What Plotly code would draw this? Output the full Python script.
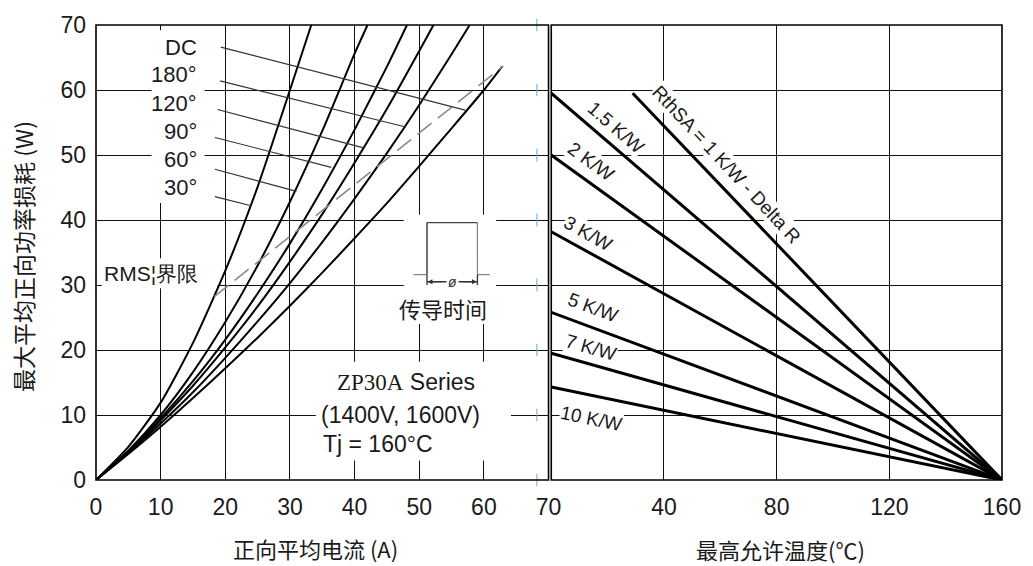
import plotly.graph_objects as go

# ---------------- data ----------------
# left panel: average forward current (A) -> max. average forward power loss (W)
cur_30 = [0, 5, 10, 15, 20, 25, 30, 33.3]
pw_30 = [0, 5.1, 11.9, 21.1, 32.2, 45.1, 60.0, 70.0]
cur_60 = [0, 5, 10, 15, 20, 25, 30, 35, 40, 42.0]
pw_60 = [0, 4.5, 10.0, 16.6, 24.3, 33.0, 42.8, 53.7, 65.6, 70.0]
cur_90 = [0, 5, 10, 15, 20, 25, 30, 35, 40, 45, 48.1]
pw_90 = [0, 4.4, 9.5, 15.2, 21.6, 28.7, 36.4, 44.8, 53.9, 63.6, 70.0]
cur_120 = [0, 5, 10, 15, 20, 25, 30, 35, 40, 45, 50, 52.2]
pw_120 = [0, 4.3, 9.2, 14.5, 20.4, 26.7, 33.6, 40.9, 48.8, 57.1, 66.0, 70.0]
cur_180 = [0, 5, 10, 15, 20, 25, 30, 35, 40, 45, 50, 55, 57.8]
pw_180 = [0, 4.2, 8.7, 13.5, 18.8, 24.4, 30.3, 36.6, 43.3, 50.3, 57.7, 65.5, 70.0]
cur_dc = [0, 5, 10, 15, 20, 25, 30, 35, 40, 45, 50, 55, 60, 62.8]
pw_dc = [0, 4.0, 8.2, 12.6, 17.2, 21.9, 26.8, 31.9, 37.2, 42.6, 48.3, 54.1, 60.0, 63.6]

curve_labels = ["DC", "180°", "120°", "90°", "60°", "30°"]
label_pw = [66.5, 62.4, 58.0, 53.6, 49.3, 45.0]
leader_from_cur = [19.3, 19.2, 18.8, 18.4, 18.4, 18.4]
leader_from_pw = [66.6, 61.4, 57.0, 52.7, 47.8, 43.6]
leader_to_cur = [57.1, 47.9, 41.4, 36.4, 31.0, 24.0]
leader_to_pw = [56.9, 54.3, 51.1, 48.1, 44.4, 42.2]

rms_cur = [18.3, 63.0]
rms_pw = [28.2, 63.7]

# right panel: max allowable temperature (°C) -> power loss (W)
rth_labels = ["RthSA = 1 K/W - Delta R", "1.5 K/W", "2 K/W", "3 K/W", "5 K/W", "7 K/W", "10 K/W"]
rth_start_t = [28.9, 0, 0, 0, 0, 0, 0]
rth_start_p = [59.5, 59.5, 50.0, 38.2, 25.8, 19.5, 14.3]
rth_end_t = 160
rth_end_p = 0
rth_lab_t = [62.3, 22.9, 14.1, 13.1, 14.8, 14.1, 14.1]
rth_lab_p = [48.6, 54.2, 49.0, 37.9, 26.5, 20.4, 9.4]
rth_lab_angle = [47, 41, 36, 29, 20.5, 16, 11.7]

x_ticks_left = [0, 10, 20, 30, 40, 50, 60, 70]
x_ticks_right = [40, 80, 120, 160]
y_ticks = [0, 10, 20, 30, 40, 50, 60, 70]
blue_tick_pw = [0, 10, 20, 30, 40, 50, 60, 70]

# ---------------- figure ----------------
SANS = "Liberation Sans, Arial, sans-serif"
CJK = "Noto Sans CJK SC, sans-serif"
fig = go.Figure()

for xs, ys in [(cur_30, pw_30), (cur_60, pw_60), (cur_90, pw_90),
               (cur_120, pw_120), (cur_180, pw_180), (cur_dc, pw_dc)]:
    fig.add_trace(go.Scatter(x=xs, y=ys, mode="lines", xaxis="x", yaxis="y",
                             line=dict(color="black", width=2, shape="spline", smoothing=0.6),
                             hoverinfo="skip", showlegend=False))

fig.add_trace(go.Scatter(x=rms_cur, y=rms_pw, mode="lines", xaxis="x", yaxis="y",
                         line=dict(color="#8a8a8a", width=1.6, dash="18px,8px"),
                         showlegend=False, hoverinfo="skip"))

# leader lines
for i in range(len(curve_labels)):
    fig.add_trace(go.Scatter(x=[leader_from_cur[i], leader_to_cur[i]],
                             y=[leader_from_pw[i], leader_to_pw[i]], mode="lines",
                             xaxis="x", yaxis="y", line=dict(color="#333", width=1.1),
                             showlegend=False, hoverinfo="skip"))

# small blue ticks
fig.add_trace(go.Scatter(x=[68.2] * len(blue_tick_pw), y=blue_tick_pw, mode="markers",
                         xaxis="x", yaxis="y",
                         marker=dict(symbol="line-ns-open", size=9, color="#6aa8dc",
                                     line=dict(color="#6aa8dc", width=1)),
                         showlegend=False, hoverinfo="skip", cliponaxis=False))

for i in range(len(rth_labels)):
    fig.add_trace(go.Scatter(x=[rth_start_t[i], rth_end_t], y=[rth_start_p[i], rth_end_p],
                             mode="lines", xaxis="x2", yaxis="y",
                             line=dict(color="black", width=3),
                             showlegend=False, hoverinfo="skip"))

annotations = []
for lab, yv in zip(curve_labels, label_pw):
    annotations.append(dict(x=15.9, y=yv, xref="x", yref="y", text=lab, showarrow=False,
                            xanchor="right", yanchor="middle",
                            font=dict(family=SANS, size=22, color="#1a1a1a")))

annotations.append(dict(x=1.0, y=31.8, xref="x", yref="y", text="RMS¦界限", showarrow=False,
                        xanchor="left", yanchor="middle",
                        font=dict(family=SANS, size=21, color="#1a1a1a")))

annotations.append(dict(x=53.75, y=26.4, xref="x", yref="y", text="传导时间", showarrow=False,
                        xanchor="center", yanchor="middle",
                        font=dict(family=CJK, size=22, color="#1a1a1a")))
annotations.append(dict(x=55.1, y=30.5, xref="x", yref="y", text="<i>ø</i>", showarrow=False,
                        xanchor="center", yanchor="middle", bgcolor="white",
                        font=dict(family=SANS, size=14, color="#333")))
for tip, tail in [(51.3, 53.6), (58.9, 56.6)]:
    annotations.append(dict(x=tip, y=30.5, ax=tail, ay=30.5, xref="x", yref="y",
                            axref="x", ayref="y", text="", showarrow=True,
                            arrowhead=2, arrowsize=0.8, arrowwidth=1.2, arrowcolor="#333"))

annotations.append(dict(x=47.95, y=15.1, xref="x", yref="y",
                        text='<span style="font-family:Liberation Serif, Times New Roman, serif">ZP30A</span> Series',
                        showarrow=False, xanchor="center", yanchor="middle",
                        font=dict(family=SANS, size=23, color="#1a1a1a")))
annotations.append(dict(x=47.05, y=10.0, xref="x", yref="y", text="(1400V, 1600V)",
                        showarrow=False, xanchor="center", yanchor="middle",
                        font=dict(family=SANS, size=23, color="#1a1a1a")))
annotations.append(dict(x=34.8, y=5.5, xref="x", yref="y", text="Tj = 160°C",
                        showarrow=False, xanchor="left", yanchor="middle",
                        font=dict(family=SANS, size=23, color="#1a1a1a")))

for lab, tx, py, ang in zip(rth_labels, rth_lab_t, rth_lab_p, rth_lab_angle):
    annotations.append(dict(x=tx, y=py, xref="x2", yref="y", text=lab, showarrow=False,
                            textangle=ang, xanchor="center", yanchor="middle",
                            bgcolor="white", borderpad=0,
                            font=dict(family=SANS, size=19, color="#1a1a1a")))

# axis titles
annotations.append(dict(x=0.2418, y=-0.15, xref="paper", yref="paper", text="正向平均电流 (A)",
                        showarrow=False, xanchor="center", yanchor="middle",
                        font=dict(family=CJK, size=22, color="#1a1a1a")))
annotations.append(dict(x=0.756, y=-0.152, xref="paper", yref="paper", text="最高允许温度(℃)",
                        showarrow=False, xanchor="center", yanchor="middle",
                        font=dict(family=CJK, size=22, color="#1a1a1a")))
annotations.append(dict(x=-0.0813, y=0.491, xref="paper", yref="paper",
                        text="最大平均正向功率损耗 (W)", textangle=-90,
                        showarrow=False, xanchor="center", yanchor="middle",
                        font=dict(family=CJK, size=23, color="#1a1a1a")))

shapes = []
# white masks that interrupt the grid behind text blocks
for x0, x1, y0, y1 in [(8.6, 16.8, 42.6, 69.2), (0.9, 18.8, 29.5, 34.1),
                       (47.6, 61.9, 24.0, 40.8), (34.0, 64.2, 3.0, 18.2)]:
    shapes.append(dict(type="rect", xref="x", yref="y", x0=x0, x1=x1, y0=y0, y1=y1,
                       fillcolor="white", line=dict(width=0), layer="between"))
# conduction-time pulse sketch
pulse = [((51.2, 31.6), (51.2, 39.6), "#222"), ((51.2, 39.6), (59.0, 39.6), "#444"),
         ((59.0, 39.6), (59.0, 31.6), "#888"), ((49.1, 31.6), (51.2, 31.6), "#888"),
         ((59.0, 31.6), (60.9, 31.6), "#888"), ((51.2, 31.6), (51.2, 30.0), "#333"),
         ((59.0, 31.6), (59.0, 30.0), "#333"), ((51.2, 30.5), (59.0, 30.5), "#333")]
for (xa, ya), (xb, yb), c in pulse:
    shapes.append(dict(type="line", xref="x", yref="y", x0=xa, y0=ya, x1=xb, y1=yb,
                       line=dict(color=c, width=1.3), layer="above"))
# panel borders
for xr in ["x domain", "x2 domain"]:
    shapes.append(dict(type="rect", xref=xr, yref="y domain", x0=0, x1=1, y0=0, y1=1,
                       line=dict(color="black", width=1.6), layer="above"))

axis_common = dict(showgrid=True, gridcolor="#111", gridwidth=1.3, zeroline=False,
                   showline=False, ticks="",
                   tickfont=dict(family=SANS, size=23, color="#1a1a1a"))

fig.update_layout(
    width=1033, height=566,
    margin=dict(l=96, r=27, t=20, b=86),
    paper_bgcolor="white", plot_bgcolor="white",
    showlegend=False,
    xaxis=dict(domain=[0, 0.4995], range=[0, 70], tickvals=x_ticks_left,
               ticklabelstandoff=11, anchor="y", **axis_common),
    xaxis2=dict(domain=[0.5025, 1], range=[0, 160], tickvals=x_ticks_right,
                ticklabelstandoff=11, anchor="y", **axis_common),
    yaxis=dict(domain=[0, 1], range=[0, 70], tickvals=y_ticks,
               ticklabelstandoff=9, anchor="x", **axis_common),
    annotations=annotations,
    shapes=shapes,
)

fig.write_html("out.html", config={"displayModeBar": False},
               post_script="document.body.style.margin='0';document.body.style.overflow='hidden';")
